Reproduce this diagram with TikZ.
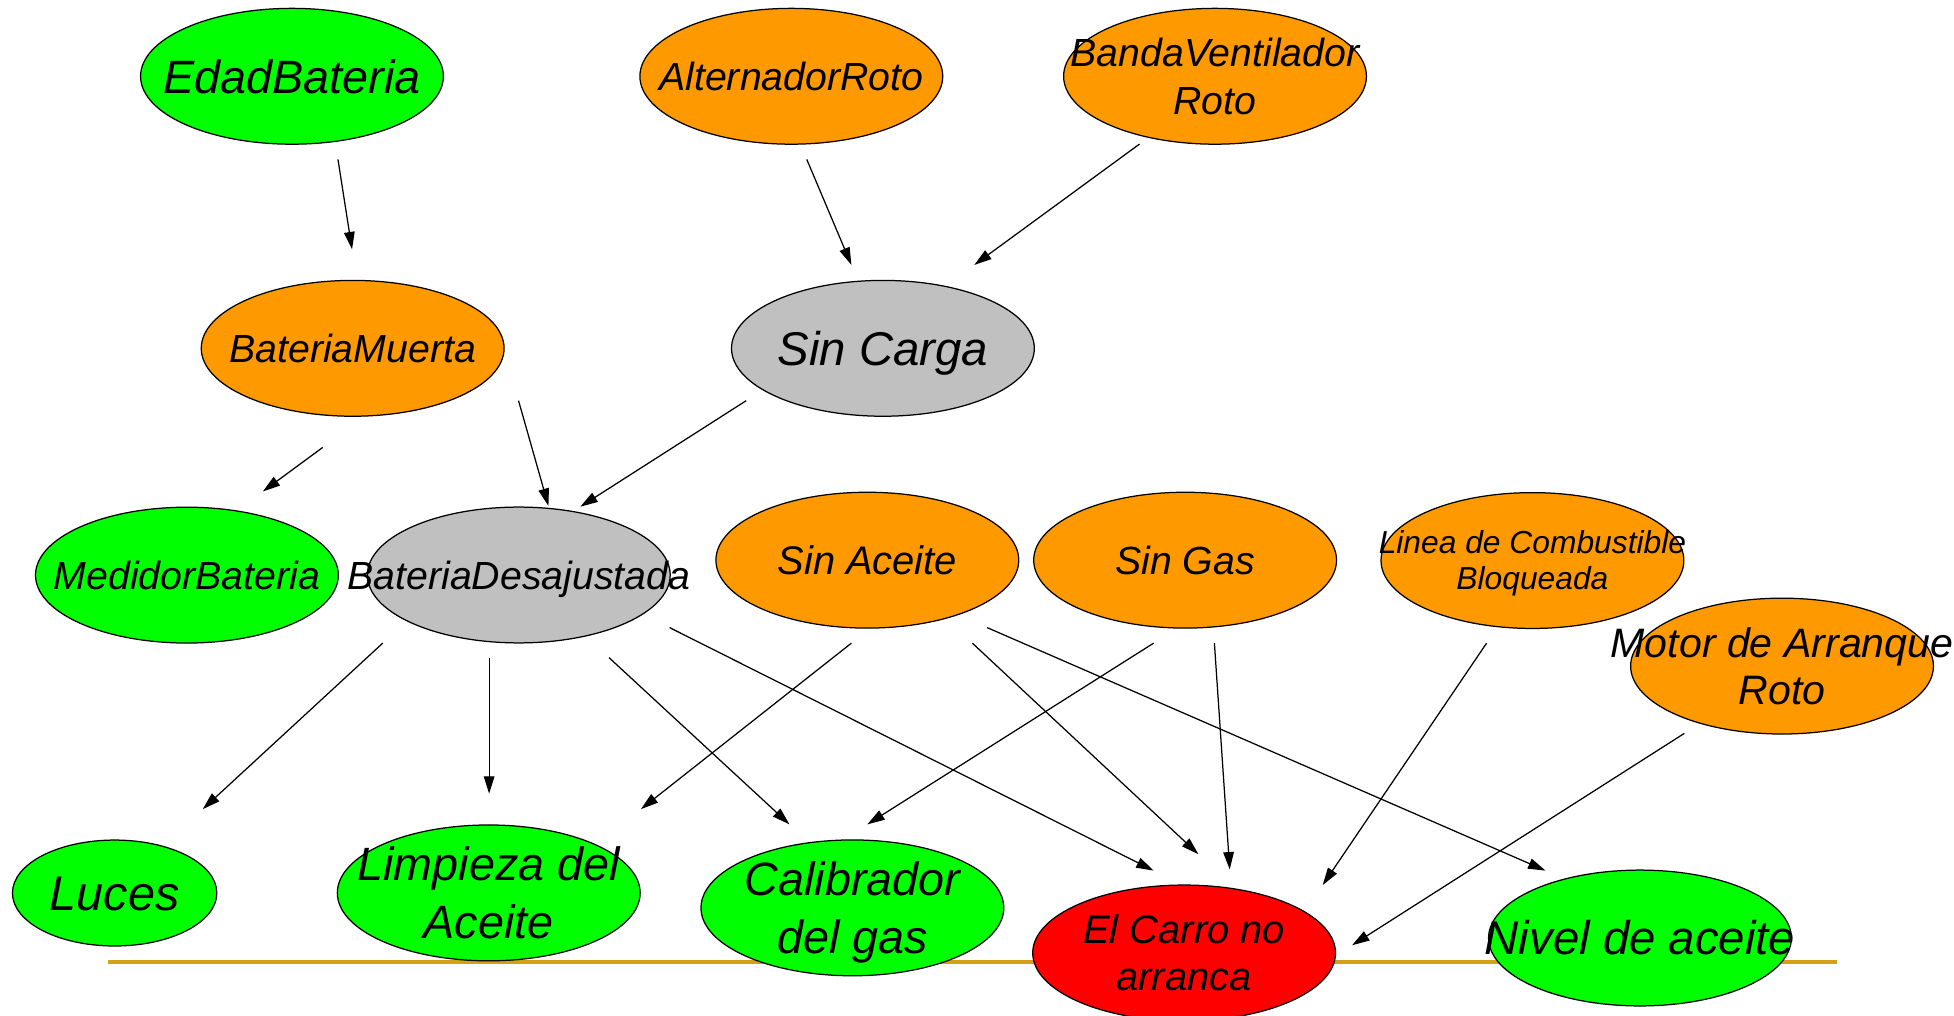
\documentclass[tikz,border=0pt]{standalone}
\usepackage{fontspec}
\setmainfont{Liberation Sans}
\usetikzlibrary{shapes.geometric,arrows.meta,calc}

\definecolor{cgreen}{RGB}{0,255,0}
\definecolor{corange}{RGB}{255,153,0}
\definecolor{cgray}{RGB}{192,192,192}
\definecolor{cred}{RGB}{255,0,0}
\definecolor{cgold}{RGB}{212,160,23}

\newcommand\fs[1]{\fontsize{#1pt}{#1pt}\selectfont\itshape}
\newcommand\onel[2]{\fs{#1}\makebox[0pt]{#2}}
\newcommand\twol[4]{\fs{#1}\makebox[0pt]{\vtop{\baselineskip=#2pt\lineskiplimit=-100pt\halign{\hfil##\hfil\cr#3\cr#4\cr}}}}

\tikzset{
  ell/.style={ellipse, draw=black, line width=1pt, minimum width=243pt,
    minimum height=109pt, inner sep=0pt, text depth=0pt},
  arr/.style={-{Triangle[length=14pt,width=8.5pt]}, line width=1pt},
  goldline/.style={draw=cgold, line width=3.2pt},
}

\begin{document}
\begin{tikzpicture}[x=1pt,y=-1pt]
\useasboundingbox (0,0) rectangle (1568,815);

% separator line
\draw[goldline] (86.9,772.3) -- (1473.8,772.3);

% top row
\node[ell, fill=cgreen, text height=26.9pt] (edad) at (234.3,61.2) {\onel{37.5}{EdadBateria}};
\node[ell, fill=corange, text height=22.6pt] (alt) at (635,61.2) {\onel{31.5}{AlternadorRoto}};
\node[ell, fill=corange, text height=22.6pt, text depth=38.8pt] (banda) at (975,61.2) {\twol{31.5}{38.8}{BandaVentilador}{Roto}};

% second row
\node[ell, fill=corange, text height=22.6pt] (muerta) at (283,279.5) {\onel{31.5}{BateriaMuerta}};
\node[ell, fill=cgray, text height=27.2pt] (carga) at (708.5,279.5) {\onel{38}{Sin Carga}};

% third row
\node[ell, fill=cgreen, text height=22.6pt] (medidor) at (150,461.5) {\onel{31.5}{MedidorBateria}};
\node[ell, fill=cgray, text height=22.6pt] (desaj) at (416.3,461.4) {\onel{31.5}{BateriaDesajustada}};
\node[ell, fill=corange, text height=22.9pt] (aceite) at (696,449.5) {\onel{32}{Sin Aceite}};
\node[ell, fill=corange, text height=22.6pt] (gas) at (951,449.5) {\onel{31.5}{Sin Gas}};
\node[ell, fill=corange, text height=18.3pt, text depth=28.9pt] (linea) at (1229.7,449.8) {\twol{25.5}{28.9}{Linea de Combustible}{Bloqueada}};
\node[ell, fill=corange, text height=23.6pt, text depth=38pt] (motor) at (1430,534.5) {\twol{33}{38}{Motor de Arranque}{Roto}};

% bottom row
\node[ell, fill=cgreen, minimum width=164pt, minimum height=85pt, text height=27.9pt] (luces) at (92,716.6) {\onel{39}{Luces}};
\node[ell, fill=cgreen, text height=26.9pt, text depth=46.8pt] (limpieza) at (392.2,716.5) {\twol{37.5}{46.8}{Limpieza del}{Aceite}};
\node[ell, fill=cgreen, text height=26.9pt, text depth=46pt] (calib) at (684,728.5) {\twol{37.5}{46}{Calibrador}{del gas}};
\node[ell, fill=cred, text height=22.9pt, text depth=37.5pt] (carro) at (950.2,764.7) {\twol{32}{37.5}{El Carro no}{arranca}};
\node[ell, fill=cgreen, text height=27.2pt] (nivel) at (1316,752.7) {\onel{38}{Nivel de aceite}};

% connectors
\draw[arr] ($(edad)+(36.9,66.7)$) -- ($(muerta)+(-0.5,-79.4)$);
\draw[arr] ($(alt)+(12.4,66.7)$) -- ($(carga)+(-25.3,-66.9)$);
\draw[arr] ($(banda)+(-60.6,54.4)$) -- ($(carga)+(73.3,-66.9)$);
\draw[arr] ($(muerta)+(-24,79.5)$) -- ($(medidor)+(60.9,-67.1)$);
\draw[arr] ($(muerta)+(133.1,42)$) -- ($(desaj)+(23.8,-55.4)$);
\draw[arr] ($(carga)+(-109.7,42)$) -- ($(desaj)+(49.4,-54.8)$);
\draw[arr] ($(desaj)+(-109.2,54.7)$) -- ($(luces)+(70.7,-67.3)$);
\draw[arr] ($(desaj)+(-23.8,66.3)$) -- ($(limpieza)+(0.3,-79.6)$);
\draw[arr] ($(desaj)+(72.4,66.3)$) -- ($(calib)+(-50.5,-67)$);
\draw[arr] ($(desaj)+(121,42.2)$) -- ($(carro)+(-24.5,-66.1)$);
\draw[arr] ($(aceite)+(-12.8,66.6)$) -- ($(limpieza)+(122.1,-67.2)$);
\draw[arr] ($(aceite)+(84.3,66.6)$) -- ($(carro)+(11.5,-79.2)$);
\draw[arr] ($(aceite)+(96.1,54.1)$) -- ($(nivel)+(-75.8,-54.1)$);
\draw[arr] ($(gas)+(-25.3,66.6)$) -- ($(calib)+(12,-67)$);
\draw[arr] ($(gas)+(23.5,66.6)$) -- ($(carro)+(36.6,-67)$);
\draw[arr] ($(linea)+(-36.8,66.3)$) -- ($(carro)+(111.2,-54.5)$);
\draw[arr] ($(motor)+(-78.4,54)$) -- ($(carro)+(134.8,-6.2)$);
\end{tikzpicture}
\end{document}
